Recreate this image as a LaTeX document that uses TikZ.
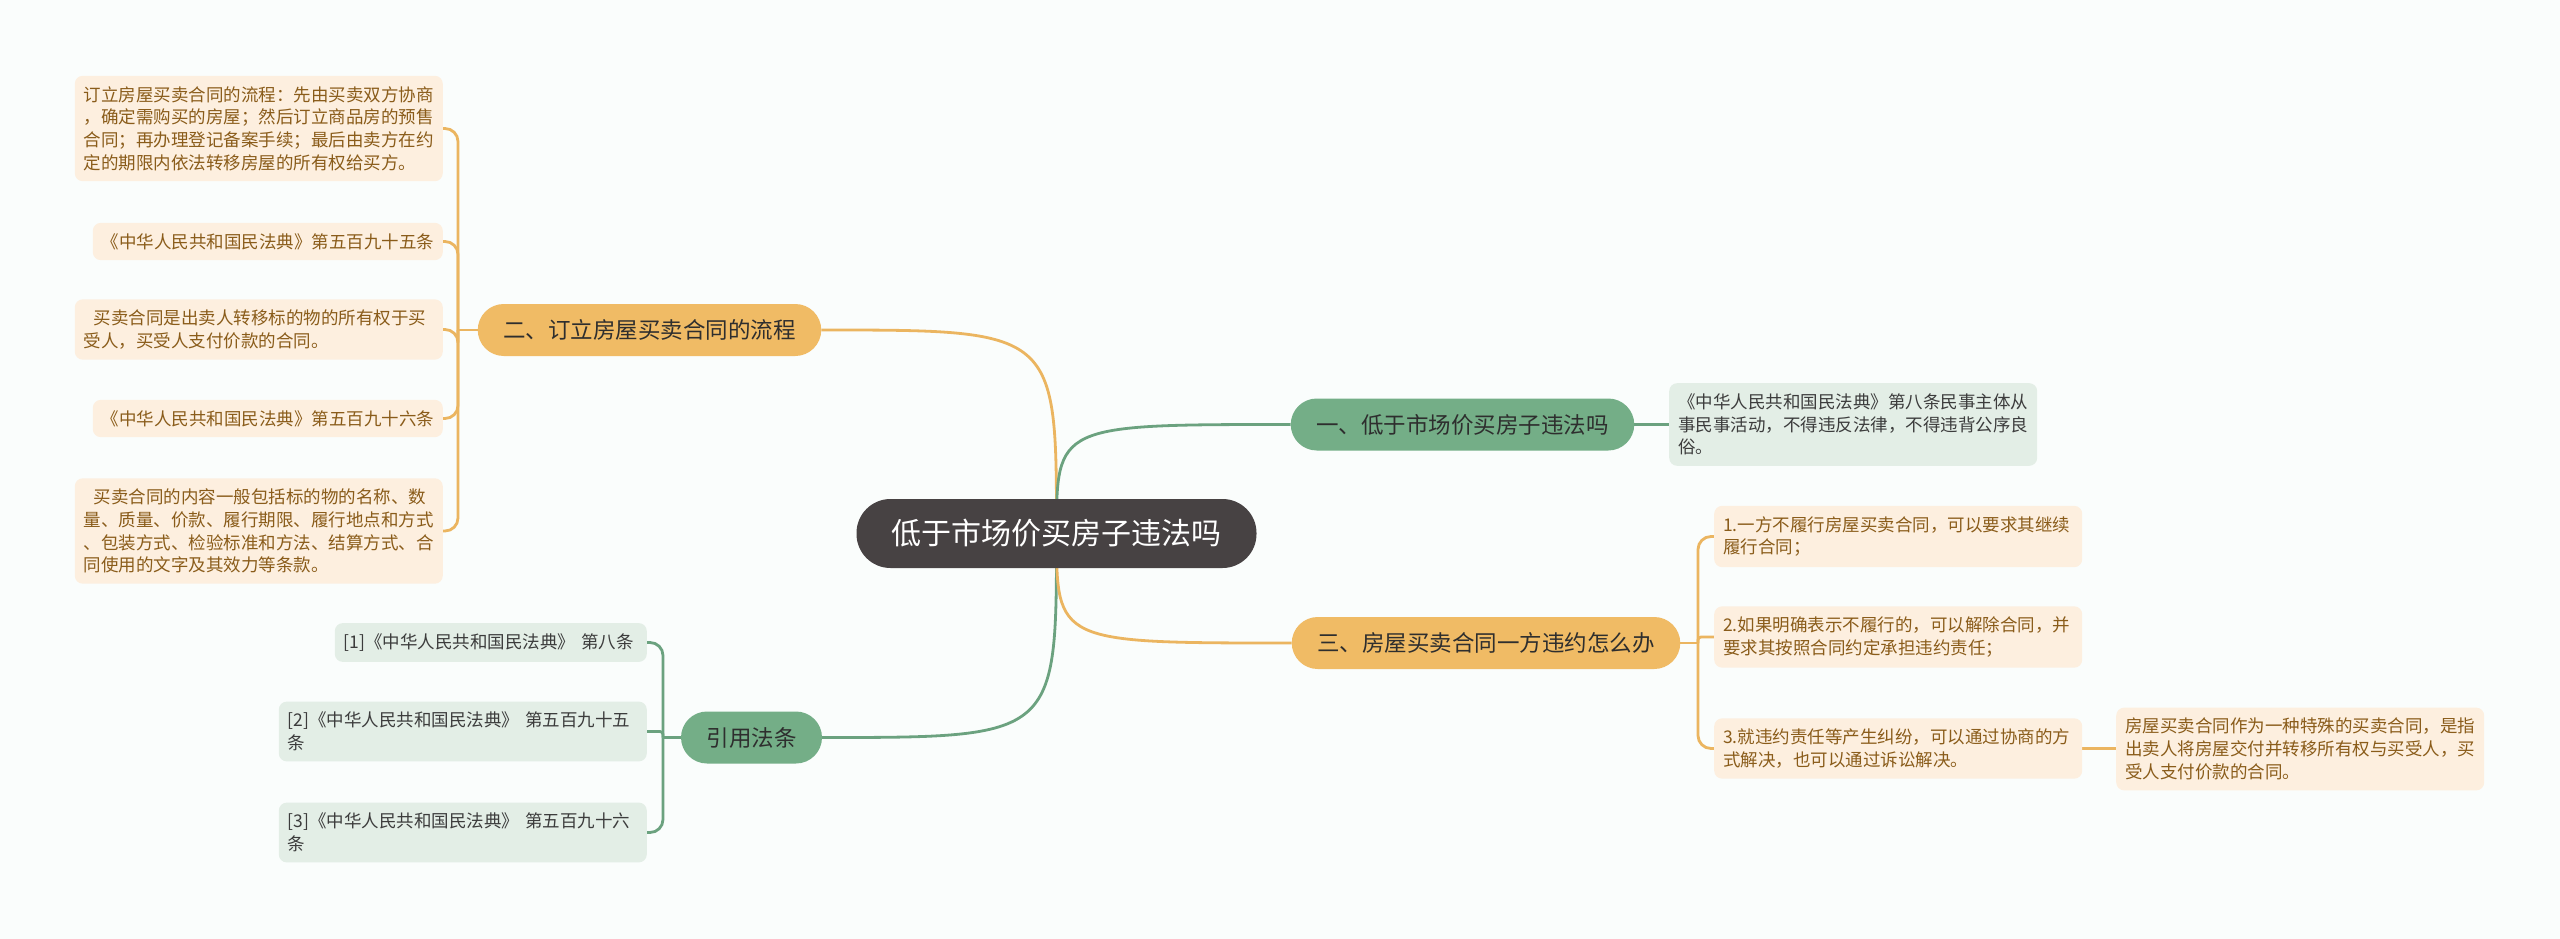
\documentclass[tikz,border=0pt]{standalone}
\usepackage{fontspec}
\setmainfont{Noto Sans CJK SC}
\usetikzlibrary{backgrounds}
\definecolor{MMbg}{HTML}{FAFDFC}
\definecolor{MMdark}{HTML}{474243}
\definecolor{MMink}{HTML}{2E2E2E}
\definecolor{MMorange}{HTML}{F0BB65}
\definecolor{MMorangeD}{HTML}{EBB560}
\definecolor{MMpeach}{HTML}{FDEFDF}
\definecolor{MMbrown}{HTML}{8A5C1A}
\definecolor{MMgreen}{HTML}{74AE87}
\definecolor{MMgreenD}{HTML}{6BA27F}
\definecolor{MMmint}{HTML}{E3EEE6}
\definecolor{MMgrey}{HTML}{3C3C3C}
\tikzset{
  mmroot/.style={
    rectangle, rounded corners=34pt, fill=MMdark, text=white,
    inner xsep=35pt, minimum height=69pt, font=\fontsize{30}{34}\selectfont},
  mmbr/.style={
    rectangle, rounded corners=26pt, text=MMink, inner xsep=25.5pt,
    minimum height=52pt, font=\fontsize{22.5}{26}\selectfont},
  mmbro/.style={mmbr, fill=MMorange},
  mmbrg/.style={mmbr, fill=MMgreen},
  mmleaf/.style={
    rectangle, rounded corners=8pt, align=left, text width=350pt,
    inner xsep=9pt, inner ysep=10.5pt, font=\fontsize{17.5}{22.7}\selectfont},
  mmleafo/.style={mmleaf, fill=MMpeach, text=MMbrown},
  mmleafg/.style={mmleaf, fill=MMmint, text=MMgrey},
  mmlino/.style={draw=MMorangeD, line width=2.8pt},
  mmling/.style={draw=MMgreenD, line width=2.8pt},
  mmbrack/.style={rounded corners=13pt},
}

\begin{document}
\begin{tikzpicture}[x=1pt, y=-1pt]
  \useasboundingbox (0,0) rectangle (2560,939);
  %% Root and branches
  \node[mmroot] (root) at (1056.5,533.5) {低于市场价买房子违法吗};
  \node[mmbro] (flow) at (649.5,330) {二、订立房屋买卖合同的流程};
  \node[mmbrg] (legal) at (751.5,737.5) {引用法条};
  \node[mmbrg] (q1) at (1462.5,424.5) {一、低于市场价买房子违法吗};
  \node[mmbro] (q3) at (1486,643) {三、房屋买卖合同一方违约怎么办};
  %% Left: flow leaves
  \node[mmleafo, anchor=east] (f1) at (443,128.5)
    {订立房屋买卖合同的流程：先由买卖双方协商\\，确定需购买的房屋；然后订立商品房的预售\\合同；再办理登记备案手续；最后由卖方在约\\定的期限内依法转移房屋的所有权给买方。};
  \node[mmleafo, anchor=east, text width=332pt, align=right] (f2) at (443,241.5)
    {《中华人民共和国民法典》第五百九十五条};
  \node[mmleafo, anchor=east] (f3) at (443,329.5)
    {\hspace*{10pt}买卖合同是出卖人转移标的物的所有权于买\\受人，买受人支付价款的合同。};
  \node[mmleafo, anchor=east, text width=332pt, align=right] (f4) at (443,418.5)
    {《中华人民共和国民法典》第五百九十六条};
  \node[mmleafo, anchor=east] (f5) at (443,531)
    {\hspace*{10pt}买卖合同的内容一般包括标的物的名称、数\\量、质量、价款、履行期限、履行地点和方式\\、包装方式、检验标准和方法、结算方式、合\\同使用的文字及其效力等条款。};
  %% Left: references
  \node[mmleafg, anchor=east, text width=294pt] (r1) at (647,642.5)
    {[1]《中华人民共和国民法典》\ 第八条};
  \node[mmleafg, anchor=east] (r2) at (647,731.5)
    {[2]《中华人民共和国民法典》 第五百九十五\\条};
  \node[mmleafg, anchor=east] (r3) at (647,832.5)
    {[3]《中华人民共和国民法典》 第五百九十六\\条};
  %% Right leaves
  \node[mmleafg, anchor=west] (a1) at (1669,424.5)
    {《中华人民共和国民法典》第八条民事主体从\\事民事活动，不得违反法律，不得违背公序良\\俗。};
  \node[mmleafo, anchor=west] (t1) at (1714,536.5)
    {1.一方不履行房屋买卖合同，可以要求其继续\\履行合同；};
  \node[mmleafo, anchor=west] (t2) at (1714,637)
    {2.如果明确表示不履行的，可以解除合同，并\\要求其按照合同约定承担违约责任；};
  \node[mmleafo, anchor=west] (t3) at (1714,748.5)
    {3.就违约责任等产生纠纷，可以通过协商的方\\式解决，也可以通过诉讼解决。};
  \node[mmleafo, anchor=west] (c1) at (2116,749)
    {房屋买卖合同作为一种特殊的买卖合同，是指\\出卖人将房屋交付并转移所有权与买受人，买\\受人支付价款的合同。};
  %% Junctions
  \coordinate (jflow) at (458,330);
  \coordinate (jlegal) at (663,737.5);
  \coordinate (jq3) at (1698,643);
  %% Connectors
  \begin{scope}[on background layer]
    \fill[MMbg] (0,0) rectangle (2560,939);
    \draw[mmlino] (root.center) .. controls (root.center |- flow.east) .. (flow.east);
    \draw[mmling] (root.center) .. controls (root.center |- legal.east) .. (legal.east);
    \draw[mmling] (root.center) .. controls (root.center |- q1.west) .. (q1.west);
    \draw[mmlino] (root.center) .. controls (root.center |- q3.west) .. (q3.west);
    \draw[mmlino] (flow.west) -- (jflow);
    \foreach \n in {f1,f2,f3,f4,f5}
      \draw[mmlino, mmbrack] (jflow) |- (\n.east);
    \draw[mmling] (legal.west) -- (jlegal);
    \draw[mmling, mmbrack] (jlegal) |- (r1.east);
    \draw[mmling, rounded corners=3pt] (jlegal) |- (r2.east);
    \draw[mmling, mmbrack] (jlegal) |- (r3.east);
    \draw[mmling] (q1.east) -- (q1.east -| a1.west);
    \draw[mmlino] (q3.east) -- (jq3);
    \draw[mmlino, mmbrack] (jq3) |- (t1.west);
    \draw[mmlino, rounded corners=3pt] (jq3) |- (t2.west);
    \draw[mmlino, mmbrack] (jq3) |- (t3.west);
    \draw[mmlino] (t3.east) -- (t3.east -| c1.west);
  \end{scope}
\end{tikzpicture}
\end{document}
